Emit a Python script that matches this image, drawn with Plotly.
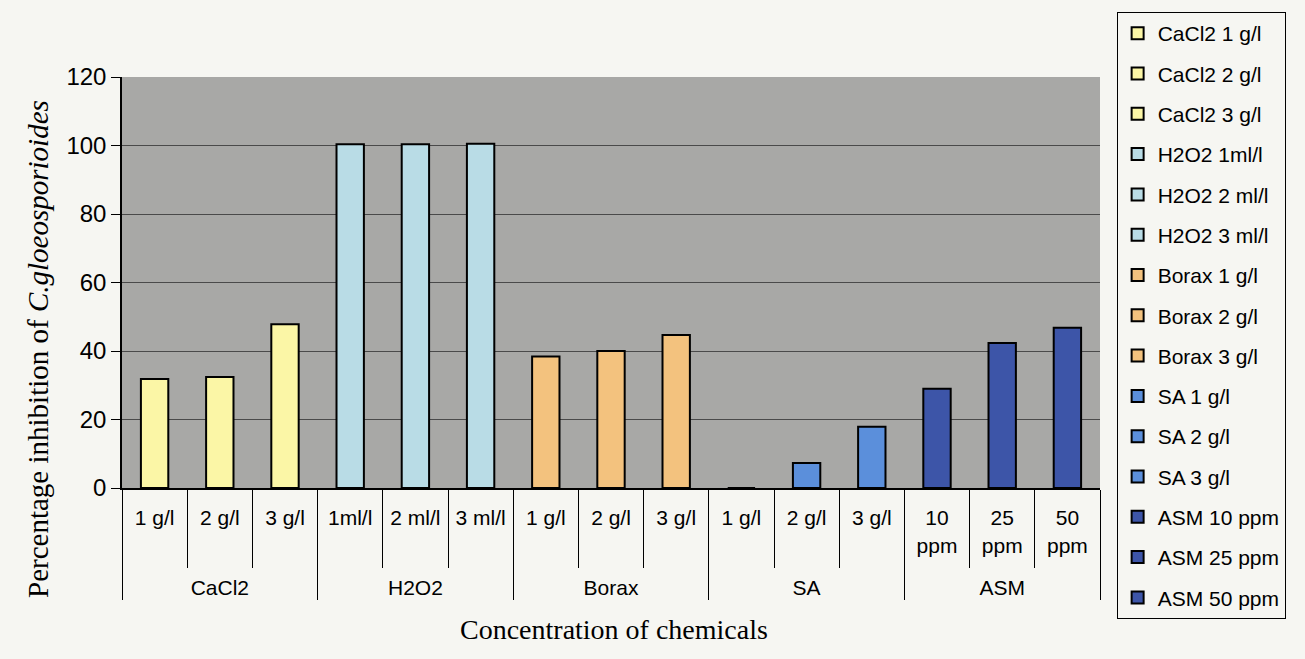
import plotly.graph_objects as go

# Treatments grouped by chemical, with the concentration of each
groups = ["CaCl2"] * 3 + ["H2O2"] * 3 + ["Borax"] * 3 + ["SA"] * 3 + ["ASM"] * 3
concentrations = ["1 g/l", "2 g/l", "3 g/l",
                  "1ml/l", "2 ml/l", "3 ml/l",
                  "1 g/l", "2 g/l", "3 g/l",
                  "1 g/l", "2 g/l", "3 g/l",
                  "10<br>ppm", "25<br>ppm", "50<br>ppm"]
legend_names = ["CaCl2 1 g/l", "CaCl2 2 g/l", "CaCl2 3 g/l",
                "H2O2 1ml/l", "H2O2 2 ml/l", "H2O2 3 ml/l",
                "Borax 1 g/l", "Borax 2 g/l", "Borax 3 g/l",
                "SA 1 g/l", "SA 2 g/l", "SA 3 g/l",
                "ASM 10 ppm", "ASM 25 ppm", "ASM 50 ppm"]
# Percentage inhibition of C. gloeosporioides
inhibition = [31.8, 32.4, 47.8,
              100.4, 100.4, 100.5,
              38.4, 40.0, 44.7,
              0.0, 7.3, 17.9,
              29.0, 42.3, 46.8]

group_colors = {
    "CaCl2": "#FBF6A6",
    "H2O2": "#B9DCE6",
    "Borax": "#F3C27E",
    "SA": "#5B8FDB",
    "ASM": "#3D55A8",
}

fig = go.Figure()
for g, c, name, v in zip(groups, concentrations, legend_names, inhibition):
    fig.add_trace(go.Bar(
        # leading line break drops the chemical name into the lower label row
        x=[["<br>" + g], [c]],
        y=[v],
        name=name,
        legendgroup=name,
        width=0.42,
        marker=dict(color=group_colors[g], line=dict(color="black", width=2)),
    ))

fig.update_layout(
    width=1305,
    height=659,
    barmode="overlay",
    paper_bgcolor="#F6F6F2",
    plot_bgcolor="#A8A8A6",
    margin=dict(l=122, r=205, t=77, b=171),
    font=dict(family="Liberation Sans, Arial, sans-serif", color="black"),
    showlegend=True,
    legend=dict(
        x=1.017, xanchor="left",
        y=1.158, yanchor="top",
        maxheight=650,
        bordercolor="black", borderwidth=1,
        bgcolor="rgba(0,0,0,0)",
        font=dict(size=21, family="Liberation Sans, Arial, sans-serif"),
        tracegroupgap=10,
        itemwidth=30,
    ),
    yaxis=dict(
        range=[0, 120],
        tickvals=[0, 20, 40, 60, 80, 100, 120],
        tickfont=dict(size=24),
        ticks="outside", ticklen=9, tickcolor="black",
        showline=True, linecolor="black", linewidth=1.5,
        showgrid=True, gridcolor="#4A4A4A", gridwidth=1,
        zeroline=False,
    ),
    xaxis=dict(
        type="multicategory",
        tickfont=dict(size=21),
        ticks="outside", tickson="boundaries", ticklen=78, tickcolor="black",
        ticklabelstandoff=10,
        showline=True, linecolor="black", linewidth=2,
        showdividers=True, dividercolor="black", dividerwidth=1,
        showgrid=False,
    ),
    annotations=[
        dict(text="Percentage inhibition of <i>C.gloeosporioides</i>",
             xref="paper", yref="paper", x=-0.086, y=0.338,
             textangle=-90, showarrow=False, xanchor="center", yanchor="middle",
             font=dict(family="Liberation Serif, Times New Roman, serif", size=29)),
        dict(text="Concentration of chemicals",
             xref="paper", yref="paper", x=0.503, y=-0.345,
             showarrow=False, xanchor="center", yanchor="middle",
             font=dict(family="Liberation Serif, Times New Roman, serif", size=28)),
    ],
)

fig.write_html("out.html")
